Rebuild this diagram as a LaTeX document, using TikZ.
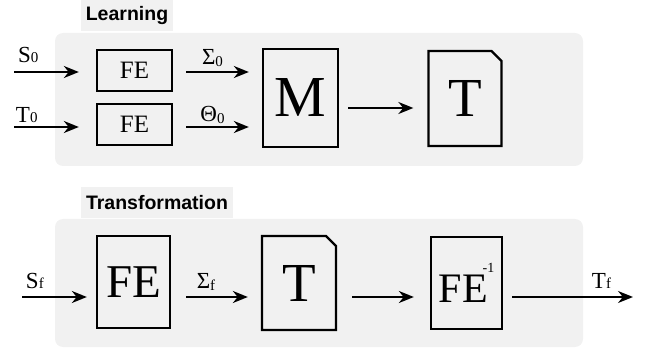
\documentclass[tikz,border=0pt]{standalone}
\usepackage{fontspec}
\setmainfont{Liberation Serif}
\setsansfont{Liberation Sans}
\usetikzlibrary{arrows.meta,positioning,shapes.misc}
\definecolor{panelgray}{RGB}{241,241,241}
\newcommand{\idx}[1]{{\fontsize{15}{15}\selectfont #1}}
\newcommand{\lidx}[1]{\raisebox{-2pt}{\idx{#1}}}

\begin{document}
\begin{tikzpicture}[x=1pt, y=-1pt,
  box/.style={draw, line width=2.3pt, inner sep=0pt},
  docbox/.style={box, chamfered rectangle, chamfered rectangle corners=north east,
    chamfered rectangle xsep=5pt, chamfered rectangle ysep=5pt},
  panel/.style={fill=panelgray, rounded corners=8pt, inner sep=0pt},
  tab/.style={fill=panelgray, inner sep=0pt, font=\sffamily\bfseries\fontsize{19.5}{19.5}\selectfont},
  lbl/.style={inner sep=0pt, font=\fontsize{23}{23}\selectfont},
  flow/.style={-{Stealth[length=15pt,width=12pt]}, line width=2pt}]

\useasboundingbox (0,0) rectangle (646,350);

\node[panel, minimum width=528pt, minimum height=133pt] (learnbg) at (319,99.5) {};
\node[tab, minimum width=92pt, minimum height=31pt] (learntab) at (127,15.5) {Learning};
\node[panel, minimum width=528pt, minimum height=128pt] (transbg) at (319,283) {};
\node[tab, minimum width=152pt, minimum height=31pt] (transtab) at (157,203) {Transformation};

\node[box, minimum width=75pt, minimum height=41pt, font=\fontsize{25}{25}\selectfont] (fes) at (134.5,70.5) {FE};
\node[box, minimum width=75pt, minimum height=41pt, font=\fontsize{25}{25}\selectfont] (fet) at (134.5,124.5) {FE};
\node[box, minimum width=75pt, minimum height=98pt, font=\fontsize{58}{58}\selectfont] (model) at (300.5,98) {M};
\node[docbox, minimum width=73pt, minimum height=95pt, font=\fontsize{55}{55}\selectfont] (tlearn) at (465,98.5) {T};

\node[box, minimum width=73pt, minimum height=92pt, font=\fontsize{47}{47}\selectfont] (fef) at (133.5,282) {FE};
\node[docbox, minimum width=74pt, minimum height=94pt, font=\fontsize{55}{55}\selectfont] (tapply) at (299,283) {T};
\node[box, minimum width=71pt, minimum height=92pt, font=\fontsize{42}{42}\selectfont] (feinv) at (466.5,283)
  {FE\kern-5pt\raisebox{30pt}{\fontsize{14}{14}\selectfont -1}};

\coordinate (s0) at (14,72);
\coordinate (t0) at (14,127);
\coordinate (sf) at (22,297);
\coordinate (tf) at (633,297);

\draw[flow, shorten >=17pt] (s0) -- (s0 -| fes.west)
  node[lbl, pos=0, anchor=base west, xshift=3pt, yshift=9pt] {S\idx{0}};
\draw[flow, shorten >=17pt] (t0) -- (t0 -| fet.west)
  node[lbl, pos=0, anchor=base west, xshift=1pt, yshift=4.5pt] {T\idx{0}};
\draw[flow, shorten <=13pt, shorten >=13pt] (s0 -| fes.east) -- (s0 -| model.west)
  node[lbl, midway, anchor=base, xshift=-5pt, yshift=7pt] {Σ\lidx{0}};
\draw[flow, shorten <=13pt, shorten >=13pt] (t0 -| fet.east) -- (t0 -| model.west)
  node[lbl, midway, anchor=base, xshift=-5pt, yshift=5pt] {Θ\lidx{0}};
\draw[flow, shorten <=9pt, shorten >=14pt] ([yshift=-10pt]model.east) -- ([yshift=-10pt]model.east -| tlearn.west);

\draw[flow, shorten >=9pt] (sf) -- (sf -| fef.west)
  node[lbl, pos=0, anchor=base west, xshift=3pt, yshift=9pt] {S\idx{f}};
\draw[flow, shorten <=15pt, shorten >=13pt] (sf -| fef.east) -- (sf -| tapply.west)
  node[lbl, midway, anchor=base, xshift=-10pt, yshift=9pt] {Σ\lidx{f}};
\draw[flow, shorten <=15pt, shorten >=16pt] (sf -| tapply.east) -- (sf -| feinv.west);
\draw[flow, shorten <=9pt] (sf -| feinv.east) -- (tf)
  node[lbl, pos=1, anchor=base east, xshift=-21pt, yshift=9pt] {T\idx{f}};

\end{tikzpicture}
\end{document}
